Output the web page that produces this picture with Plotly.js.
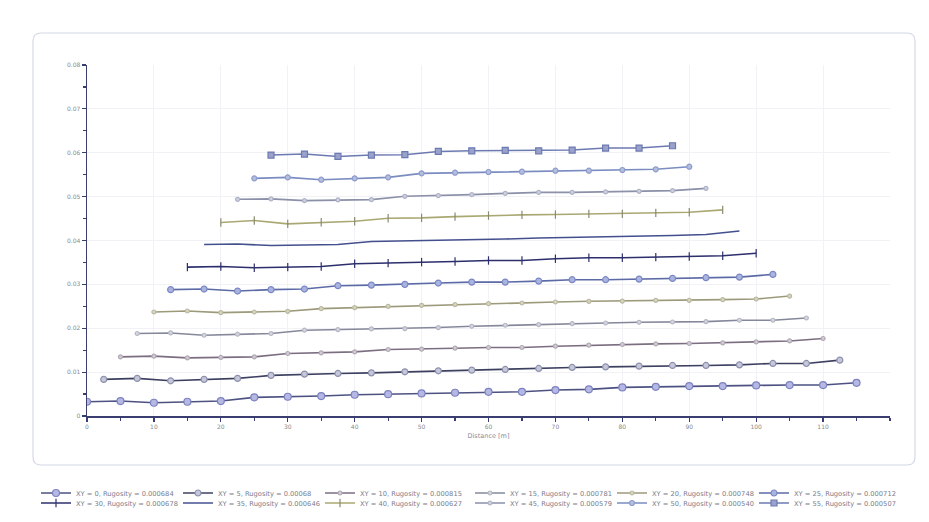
<!DOCTYPE html>
<html>
<head>
<meta charset="utf-8">
<script src="https://cdn.plot.ly/plotly-3.0.1.min.js"></script>
<style>
  html, body { margin: 0; padding: 0; background: #ffffff; }
  #chart { width: 929px; height: 522px; }
</style>
</head>
<body>
<div id="chart"></div>
<script>
// ---------- data ----------
const seriesNames = [
  "XY = 0, Rugosity = 0.000684",
  "XY = 5, Rugosity = 0.00068",
  "XY = 10, Rugosity = 0.000815",
  "XY = 15, Rugosity = 0.000781",
  "XY = 20, Rugosity = 0.000748",
  "XY = 25, Rugosity = 0.000712",
  "XY = 30, Rugosity = 0.000678",
  "XY = 35, Rugosity = 0.000646",
  "XY = 40, Rugosity = 0.000627",
  "XY = 45, Rugosity = 0.000579",
  "XY = 50, Rugosity = 0.000540",
  "XY = 55, Rugosity = 0.000507"
];

const dist0  = [0,5,10,15,20,25,30,35,40,45,50,55,60,65,70,75,80,85,90,95,100,105,110,115];
const dist5  = [2.5,7.5,12.5,17.5,22.5,27.5,32.5,37.5,42.5,47.5,52.5,57.5,62.5,67.5,72.5,77.5,82.5,87.5,92.5,97.5,102.5,107.5,112.5];
const dist10 = [5,10,15,20,25,30,35,40,45,50,55,60,65,70,75,80,85,90,95,100,105,110];
const dist15 = [7.5,12.5,17.5,22.5,27.5,32.5,37.5,42.5,47.5,52.5,57.5,62.5,67.5,72.5,77.5,82.5,87.5,92.5,97.5,102.5,107.5];
const dist20 = [10,15,20,25,30,35,40,45,50,55,60,65,70,75,80,85,90,95,100,105];
const dist25 = [12.5,17.5,22.5,27.5,32.5,37.5,42.5,47.5,52.5,57.5,62.5,67.5,72.5,77.5,82.5,87.5,92.5,97.5,102.5];
const dist30 = [15,20,25,30,35,40,45,50,55,60,65,70,75,80,85,90,95,100];
const dist35 = [17.5,22.5,27.5,32.5,37.5,42.5,47.5,52.5,57.5,62.5,67.5,72.5,77.5,82.5,87.5,92.5,97.5];
const dist40 = [20,25,30,35,40,45,50,55,60,65,70,75,80,85,90,95];
const dist45 = [22.5,27.5,32.5,37.5,42.5,47.5,52.5,57.5,62.5,67.5,72.5,77.5,82.5,87.5,92.5];
const dist50 = [25,30,35,40,45,50,55,60,65,70,75,80,85,90];
const dist55 = [27.5,32.5,37.5,42.5,47.5,52.5,57.5,62.5,67.5,72.5,77.5,82.5,87.5];

const elev0  = [0.00325,0.00341,0.00302,0.00325,0.00341,0.00425,0.00439,0.00455,0.00484,0.00498,0.00514,0.00530,0.00552,0.00552,0.00591,0.00607,0.00652,0.00666,0.00682,0.00682,0.00698,0.00705,0.00705,0.00757];
const elev5  = [0.00834,0.00857,0.00802,0.00834,0.00857,0.00925,0.00955,0.00970,0.00984,0.01007,0.01030,0.01045,0.01061,0.01084,0.01107,0.01120,0.01136,0.01152,0.01152,0.01166,0.01198,0.01198,0.01273];
const elev10 = [0.01348,0.01364,0.01325,0.01334,0.01348,0.01425,0.01439,0.01461,0.01516,0.01523,0.01545,0.01561,0.01561,0.01591,0.01614,0.01630,0.01643,0.01652,0.01666,0.01689,0.01711,0.01766];
const elev15 = [0.01880,0.01893,0.01841,0.01864,0.01880,0.01955,0.01970,0.01984,0.01993,0.02016,0.02045,0.02068,0.02084,0.02107,0.02120,0.02136,0.02143,0.02152,0.02182,0.02182,0.02234];
const elev20 = [0.02370,0.02393,0.02357,0.02370,0.02386,0.02448,0.02470,0.02500,0.02523,0.02539,0.02561,0.02575,0.02598,0.02614,0.02620,0.02636,0.02636,0.02652,0.02666,0.02734];
const elev25 = [0.02880,0.02893,0.02848,0.02880,0.02893,0.02970,0.02984,0.03000,0.03030,0.03052,0.03052,0.03075,0.03107,0.03107,0.03120,0.03136,0.03152,0.03166,0.03227];
const elev30 = [0.03393,0.03409,0.03379,0.03393,0.03409,0.03470,0.03484,0.03507,0.03523,0.03545,0.03545,0.03584,0.03607,0.03607,0.03620,0.03636,0.03652,0.03711];
const elev35 = [0.03909,0.03920,0.03886,0.03898,0.03909,0.03977,0.03989,0.04000,0.04023,0.04034,0.04057,0.04068,0.04091,0.04102,0.04114,0.04136,0.04216];
const elev40 = [0.04409,0.04455,0.04380,0.04416,0.04439,0.04507,0.04516,0.04545,0.04568,0.04584,0.04591,0.04607,0.04607,0.04630,0.04643,0.04698];
const elev45 = [0.04939,0.04948,0.04909,0.04925,0.04932,0.05007,0.05023,0.05045,0.05073,0.05098,0.05098,0.05107,0.05120,0.05136,0.05189];
const elev50 = [0.05416,0.05439,0.05386,0.05416,0.05439,0.05530,0.05545,0.05561,0.05568,0.05591,0.05591,0.05607,0.05623,0.05682];
const elev55 = [0.05948,0.05970,0.05916,0.05948,0.05955,0.06030,0.06045,0.06053,0.06045,0.06061,0.06107,0.06107,0.06159];

const xTickVals = [0,10,20,30,40,50,60,70,80,90,100,110];
const yTickVals = [0,0.01,0.02,0.03,0.04,0.05,0.06,0.07,0.08];
const yTickText = ["0","0.01","0.02","0.03","0.04","0.05","0.06","0.07","0.08"];
const xAxisTitle = "Distance [m]";

// ---------- styles ----------
const dists = [dist0,dist5,dist10,dist15,dist20,dist25,dist30,dist35,dist40,dist45,dist50,dist55];
const elevs = [elev0,elev5,elev10,elev15,elev20,elev25,elev30,elev35,elev40,elev45,elev50,elev55];
const styles = [
  {line:'#4d5282', sym:'circle', size:7, fill:'#b4b8e2', edge:'#7d82c0'},
  {line:'#3d4060', sym:'circle', size:6, fill:'#c6c8da', edge:'#8d90ae'},
  {line:'#7b6e80', sym:'circle', size:4, fill:'#d2ccd4', edge:'#b0a8b4'},
  {line:'#85889a', sym:'circle', size:4, fill:'#d4d6e0', edge:'#b4b6c4'},
  {line:'#9c9a7a', sym:'circle', size:4, fill:'#d8d6c0', edge:'#bab8a0'},
  {line:'#5c6aa6', sym:'circle', size:6, fill:'#aab4e0', edge:'#7c88c4'},
  {line:'#2c2f6c', sym:'line-ns', size:6, fill:'#2c2f6c', edge:'#2c2f6c'},
  {line:'#44508e', sym:'circle', size:0, fill:'#44508e', edge:'#44508e'},
  {line:'#aaa872', sym:'line-ns', size:6, fill:'#8a8a70', edge:'#8a8a70'},
  {line:'#8c90a8', sym:'circle', size:4, fill:'#cfd2e0', edge:'#aeb2c6'},
  {line:'#7a8cc0', sym:'circle', size:5, fill:'#b4bede', edge:'#8e9ccc'},
  {line:'#6c7ab2', sym:'square', size:6, fill:'#9aa2cc', edge:'#6c7ab2'}
];

// legend group for each series: row 1 = first six, row 2 = last six, each split in two halves
const legendIds = ['legend','legend','legend','legend2','legend2','legend2',
                   'legend3','legend3','legend3','legend4','legend4','legend4'];

const traces = dists.map((d, i) => ({
  type: 'scatter',
  mode: styles[i].size > 0 ? 'lines+markers' : 'lines',
  name: seriesNames[i],
  x: d,
  y: elevs[i],
  legend: legendIds[i],
  line: {color: styles[i].line, width: 1.6},
  marker: {symbol: styles[i].sym, size: styles[i].size, color: styles[i].fill,
           line: {color: styles[i].edge, width: 1.2}}
}));

const axisColor = '#3a3d70';
const tickFont = {family: 'DejaVu Sans, sans-serif', size: 6, color: '#8a8a8a'};

// rounded outer frame (paper coords relative to plot area)
const W = 929, H = 522;
const L = 87, R = 890, T = 65, B = 416;
const px = v => (v - L) / (R - L);
const py = v => (B - v) / (B - T);
const fx0 = px(33), fx1 = px(915), fy0 = py(465), fy1 = py(33);
const rx = 8 / (R - L), ry = 8 / (B - T);
const framePath = `M ${fx0+rx} ${fy1} L ${fx1-rx} ${fy1} Q ${fx1} ${fy1} ${fx1} ${fy1-ry} ` +
  `L ${fx1} ${fy0+ry} Q ${fx1} ${fy0} ${fx1-rx} ${fy0} L ${fx0+rx} ${fy0} Q ${fx0} ${fy0} ${fx0} ${fy0+ry} ` +
  `L ${fx0} ${fy1-ry} Q ${fx0} ${fy1} ${fx0+rx} ${fy1} Z`;

const legendBase = {
  orientation: 'h', xanchor: 'left', yanchor: 'middle',
  xref: 'container', yref: 'container',
  font: {family: 'DejaVu Sans, sans-serif', size: 6.7, color: '#7a7a8a'},
  bgcolor: 'rgba(0,0,0,0)', entrywidth: 97, entrywidthmode: 'pixels',
  itemwidth: 30, tracegroupgap: 0, itemclick: false
};
const legX1 = 36 / W, legX2 = 470 / W;
const legY1 = (H - 493) / H, legY2 = (H - 503) / H;

const layout = {
  width: W, height: H,
  margin: {l: L, r: W - R, t: T, b: H - B},
  paper_bgcolor: '#ffffff', plot_bgcolor: '#ffffff',
  showlegend: true,
  legend:  Object.assign({}, legendBase, {x: legX1, y: legY1}),
  legend2: Object.assign({}, legendBase, {x: legX2, y: legY1}),
  legend3: Object.assign({}, legendBase, {x: legX1, y: legY2}),
  legend4: Object.assign({}, legendBase, {x: legX2, y: legY2}),
  xaxis: {
    range: [0, 120], tickvals: xTickVals, ticktext: xTickVals.map(String),
    showline: true, linecolor: axisColor, linewidth: 1.5,
    ticks: 'outside', ticklen: 4, tickwidth: 1.2, tickcolor: axisColor,
    minor: {dtick: 5, tick0: 0, ticks: 'outside', ticklen: 3, tickcolor: axisColor, showgrid: false},
    showgrid: true, gridcolor: '#f1f1f6', gridwidth: 1, zeroline: false,
    tickfont: tickFont,
    title: {text: xAxisTitle, font: {family: 'DejaVu Sans, sans-serif', size: 6.5, color: '#8a8a9a'}, standoff: 4}
  },
  yaxis: {
    range: [0, 0.08], tickvals: yTickVals, ticktext: yTickText,
    showline: true, linecolor: axisColor, linewidth: 1.5,
    ticks: 'outside', ticklen: 4, tickwidth: 1.2, tickcolor: axisColor,
    minor: {dtick: 0.005, tick0: 0, ticks: 'outside', ticklen: 3, tickcolor: axisColor, showgrid: false},
    showgrid: true, gridcolor: '#f1f1f6', gridwidth: 1, zeroline: false,
    tickfont: tickFont
  },
  shapes: [{
    type: 'path', xref: 'paper', yref: 'paper', path: framePath,
    line: {color: '#d4d8e8', width: 1.2}, fillcolor: 'rgba(0,0,0,0)', layer: 'below'
  }]
};

Plotly.newPlot('chart', traces, layout, {displayModeBar: false, staticPlot: true});
</script>
</body>
</html>
